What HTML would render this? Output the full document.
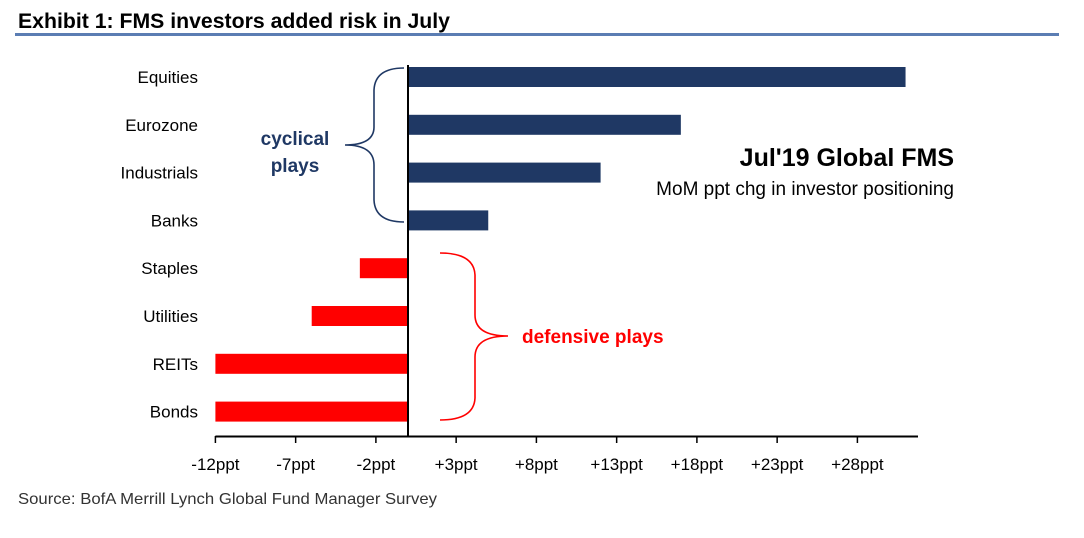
<!DOCTYPE html>
<html><head><meta charset="utf-8"><style>
body{margin:0;background:#fff;width:1084px;height:533px;overflow:hidden;font-family:"Liberation Sans",sans-serif}
</style></head><body>
<svg width="1084" height="533" xmlns="http://www.w3.org/2000/svg">
<text x="18" y="28" font-size="21" font-weight="bold" fill="#000" textLength="432" lengthAdjust="spacingAndGlyphs">Exhibit 1: FMS investors added risk in July</text>
<rect x="15" y="33" width="1044" height="3" fill="#5b7db3"/>
<g id="bars"></g>
<g id="axis"></g>
<path d="M404,68 Q375,68 374,90 L374,127 Q374,145 345,145 Q374,145 374,165 L374,200 Q375,222 404,222" fill="none" stroke="#1f3864" stroke-width="1.6"/>
<text x="295" y="145" font-size="19" font-weight="bold" fill="#1f3864" text-anchor="middle">cyclical</text>
<text x="295" y="172" font-size="19" font-weight="bold" fill="#1f3864" text-anchor="middle">plays</text>
<path d="M440,253 Q474,253 475,275 L475,315 Q475,336 508,336 Q475,336 475,357 L475,398 Q474,420 440,420" fill="none" stroke="#ff0000" stroke-width="1.6"/>
<text x="522" y="343" font-size="19" font-weight="bold" fill="#ff0000">defensive plays</text>
<text x="954" y="166" font-size="25" font-weight="bold" fill="#000" text-anchor="end">Jul'19 Global FMS</text>
<text x="954" y="195" font-size="19" fill="#000" text-anchor="end">MoM ppt chg in investor positioning</text>
<text x="18" y="504" font-size="16" fill="#333" textLength="419" lengthAdjust="spacingAndGlyphs">Source:  BofA Merrill Lynch Global Fund Manager Survey</text>
</svg>
<script>
const categories=["Equities","Eurozone","Industrials","Banks","Staples","Utilities","REITs","Bonds"];
const values=[31,17,12,5,-3,-6,-12,-12];
const ticks=[-12,-7,-2,3,8,13,18,23,28];
const tickLabels=["-12ppt","-7ppt","-2ppt","+3ppt","+8ppt","+13ppt","+18ppt","+23ppt","+28ppt"];
const NS="http://www.w3.org/2000/svg";
const x=v=>408+(v)*16.05;
const y=i=>77+i*47.8;
function mk(t,a,p){const e=document.createElementNS(NS,t);for(const k in a)e.setAttribute(k,a[k]);p.appendChild(e);return e;}
const bars=document.getElementById('bars'),axis=document.getElementById('axis');
categories.forEach((c,i)=>{
  const v=values[i];
  const r=mk('rect',{x:Math.min(x(0),x(v)),y:y(i)-10,width:Math.abs(x(v)-x(0)),height:20,fill:v>=0?'#1f3864':'#ff0000'},bars);
  
  
  const t=mk('text',{x:198,y:y(i)+6,'font-size':17,'text-anchor':'end',fill:'#000'},bars);
  t.textContent=c;
  
  
});
const zl=mk('line',{x1:x(0),x2:x(0),y1:65,y2:437,stroke:'#000','stroke-width':2},axis);


const al=mk('line',{x1:x(-12),x2:918,y1:436.5,y2:436.5,stroke:'#000','stroke-width':2},axis);


ticks.forEach((v,i)=>{
  const tk=mk('line',{x1:x(v),x2:x(v),y1:436,y2:443,stroke:'#000','stroke-width':1.5},axis);
  
  
  const t=mk('text',{x:x(v),y:470,'font-size':17,'text-anchor':'middle',fill:'#000'},axis);
  t.textContent=tickLabels[i];
  
  
});
</script>
</body></html>
